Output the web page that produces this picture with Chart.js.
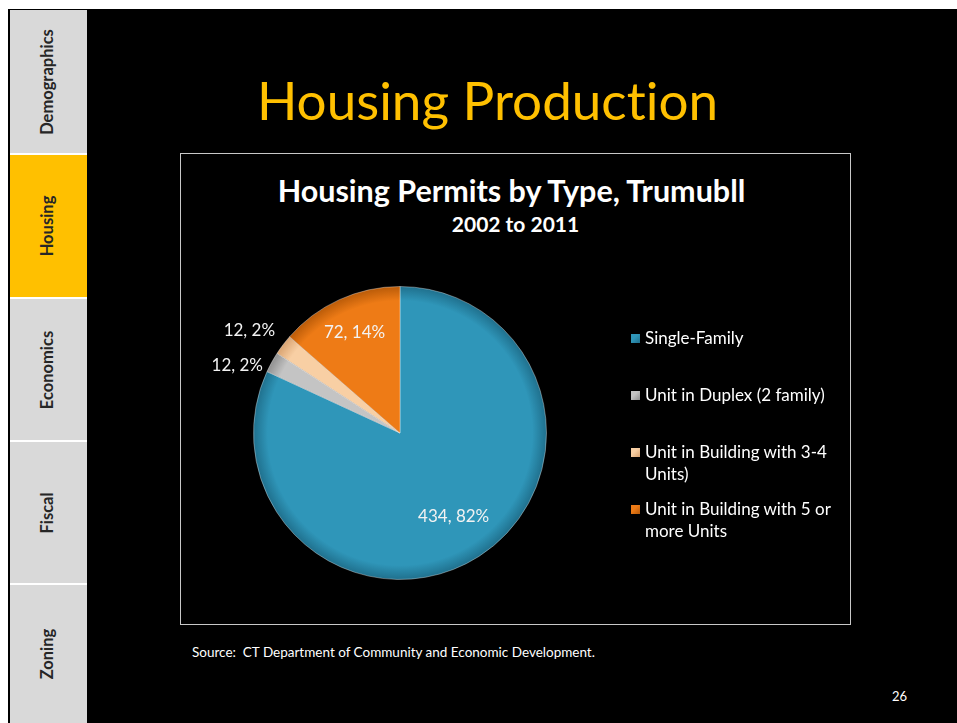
<!DOCTYPE html>
<html>
<head>
<meta charset="utf-8">
<script src="https://cdn.jsdelivr.net/npm/chart.js@4.4.1/dist/chart.umd.min.js"></script>
<style>
  html, body { margin: 0; padding: 0; background: #ffffff; }
  body { width: 957px; height: 723px; position: relative; overflow: hidden; font-family: Lato, "Open Sans", sans-serif; font-variant-ligatures: none; }
  #slide { position: absolute; left: 8px; top: 9px; width: 949px; height: 714px; background: #000000; }
  #sidebar { position: absolute; left: 10px; top: 10px; width: 77px; height: 713px; background: #ffffff; }
  .tab { position: absolute; left: 0; width: 77px; background: #d9d9d9; }
  .tab.active { background: #ffc000; }
  .tab span { position: absolute; left: 48%; top: 50%; transform: translate(-50%, -50%) rotate(-90deg);
              font-weight: bold; font-size: 16.5px; color: #262626; white-space: nowrap; }
  #title { position: absolute; left: 0; width: 975px; top: 68px; text-align: center; color: #ffc000; font-size: 53px; line-height: 64px; }
  #box { position: absolute; left: 180px; top: 153px; width: 669px; height: 470px; border: 1px solid #c8c8c8; }
  #chartTitle { position: absolute; left: -4px; width: 669px; top: 18px; text-align: center; color: #ffffff; font-weight: bold; font-size: 30.5px; line-height: 36px; }
  #chartSub { position: absolute; left: 0; width: 669px; top: 57px; text-align: center; color: #ffffff; font-weight: bold; font-size: 21px; line-height: 26px; }
  #wrap { position: absolute; left: 0; top: 0; width: 669px; height: 470px; }
  #legend { position: absolute; left: 450px; top: 173px; width: 215px; }
  .item { height: 57px; position: relative; padding-left: 14px; color: #ffffff; font-size: 17px; line-height: 22px; }
  .item i { position: absolute; left: 0; top: 7px; width: 9px; height: 9px; }
  #source { position: absolute; left: 192px; top: 644px; color: #ffffff; font-size: 13.5px; }
  #page { position: absolute; left: 892px; top: 688px; color: #ffffff; font-size: 13px; }
</style>
</head>
<body>
<div id="slide"></div>
<div id="sidebar"></div>
<div id="title">Housing Production</div>
<div id="box">
  <div id="chartTitle">Housing Permits by Type, Trumubll</div>
  <div id="chartSub">2002 to 2011</div>
  <div id="wrap"><canvas id="pie"></canvas></div>
  <div id="legend"></div>
</div>
<div id="source">Source:&nbsp; CT Department of Community and Economic Development.</div>
<div id="page">26</div>
<script>
// sidebar tabs
const tabNames = ['Demographics', 'Housing', 'Economics', 'Fiscal', 'Zoning'];
const tabTops = [0, 145, 289, 432, 575];
const tabHeights = [143, 142, 141, 141, 138];
const activeTab = 'Housing';

// chart data
const categories = ['Single-Family', 'Unit in Duplex (2 family)', 'Unit in Building with 3-4 Units)', 'Unit in Building with 5 or more Units'];
const permits = [434, 12, 12, 72];
const sliceColors = ['#2f96b9', '#c4c4c4', '#f8cfa4', '#ee7b16'];
const sliceEdges = ['#1f6f8c', '#8f8f8f', '#d8a270', '#b85a08'];

const sidebar = document.getElementById('sidebar');
tabNames.forEach((name, i) => {
    const tab = document.createElement('div');
    tab.className = 'tab' + (name === activeTab ? ' active' : '');
    tab.style.top = tabTops[i] + 'px';
    tab.style.height = tabHeights[i] + 'px';
    const label = document.createElement('span');
    label.textContent = name;
    tab.appendChild(label);
    sidebar.appendChild(tab);
});

// legend
const legend = document.getElementById('legend');
categories.forEach((name, i) => {
    const item = document.createElement('div');
    item.className = 'item';
    const box = document.createElement('i');
    box.style.background = 'linear-gradient(135deg, ' + sliceColors[i] + ' 40%, ' + sliceEdges[i] + ')';
    item.appendChild(box);
    item.appendChild(document.createTextNode(name));
    legend.appendChild(item);
});

const total = permits.reduce((a, b) => a + b, 0);

// shaded fill for each slice
function sliceFill(context) {
    const chart = context.chart;
    const area = chart.chartArea;
    if (!area) return sliceColors[context.dataIndex];
    const cx = (area.left + area.right) / 2;
    const cy = (area.top + area.bottom) / 2;
    const r = Math.min(area.right - area.left, area.bottom - area.top) / 2;
    const g = chart.ctx.createRadialGradient(cx, cy, 0, cx, cy, r);
    g.addColorStop(0, sliceColors[context.dataIndex]);
    g.addColorStop(0.9, sliceColors[context.dataIndex]);
    g.addColorStop(1, sliceEdges[context.dataIndex]);
    return g;
}

// data labels "value, pct%"
const pieLabels = {
    id: 'pieLabels',
    afterDatasetsDraw(chart) {
        const ctx = chart.ctx;
        const arcs = chart.getDatasetMeta(0).data;
        const outside = [];
        ctx.save();
        ctx.font = '17px Lato';
        ctx.fillStyle = '#f2f2f2';
        ctx.textBaseline = 'middle';
        arcs.forEach((arc, i) => {
            const p = arc.getProps(['x', 'y', 'startAngle', 'endAngle', 'outerRadius'], true);
            const mid = (p.startAngle + p.endAngle) / 2;
            const share = permits[i] / total;
            const text = permits[i] + ', ' + Math.round(share * 100) + '%';
            if (share > 0.05) {
                const r = p.outerRadius * (share > 0.5 ? 0.68 : 0.75);
                ctx.textAlign = 'center';
                ctx.fillText(text, p.x + Math.cos(mid) * r, p.y + Math.sin(mid) * r);
            } else {
                const r = p.outerRadius + 10;
                outside.push({
                    text: text,
                    x: p.x + Math.cos(mid) * r,
                    y: p.y + Math.sin(mid) * r,
                    align: Math.cos(mid) < 0 ? 'right' : 'left'
                });
            }
        });
        // spread small labels apart
        outside.sort((a, b) => a.y - b.y);
        const gap = 35;
        for (let k = 1; k < outside.length; k++) {
            const prev = outside[k - 1];
            const cur = outside[k];
            if (cur.y - prev.y < gap) {
                const push = (gap - (cur.y - prev.y)) / 2;
                prev.y -= push;
                cur.y += push;
            }
        }
        outside.forEach(l => {
            ctx.textAlign = l.align;
            ctx.fillText(l.text, l.x, l.y);
        });
        ctx.restore();
    }
};

const ctx = document.getElementById('pie').getContext('2d');
new Chart(ctx, {
    type: 'pie',
    data: {
        labels: categories,
        datasets: [{
            data: permits,
            backgroundColor: sliceFill,
            borderColor: 'rgba(255, 255, 255, 0.35)',
            borderWidth: 1
        }]
    },
    options: {
        responsive: true,
        maintainAspectRatio: false,
        animation: false,
        layout: {
            padding: { left: 72, right: 303, top: 132, bottom: 44 }
        },
        plugins: {
            legend: { display: false },
            tooltip: { enabled: false }
        }
    },
    plugins: [pieLabels]
});
</script>
</body>
</html>
